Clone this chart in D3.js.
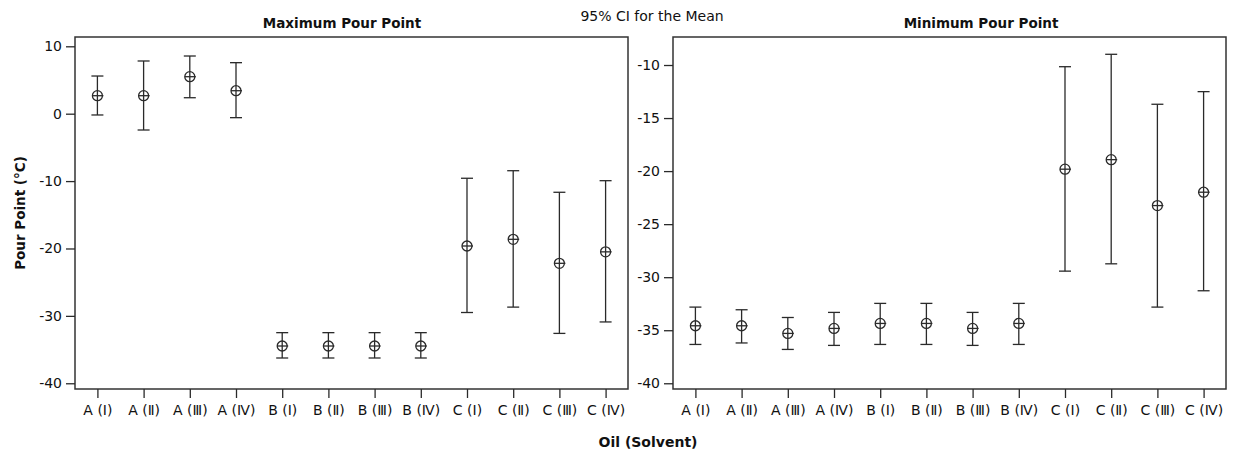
<!DOCTYPE html>
<html><head><meta charset="utf-8">
<script src="https://cdn.jsdelivr.net/npm/d3@7"></script>
<style>body{margin:0;background:#fff}svg{display:block}</style>
</head><body>
<script>
const categories = ["A (Ⅰ)","A (Ⅱ)","A (Ⅲ)","A (Ⅳ)","B (Ⅰ)","B (Ⅱ)","B (Ⅲ)","B (Ⅳ)","C (Ⅰ)","C (Ⅱ)","C (Ⅲ)","C (Ⅳ)"];
const maxMean  = [2.67, 2.67, 5.49, 3.41, -34.47, -34.47, -34.47, -34.47, -19.63, -18.64, -22.2, -20.5];
const maxLower = [-0.19, -2.42, 2.37, -0.59, -36.25, -36.25, -36.25, -36.25, -29.5, -28.7, -32.6, -30.9];
const maxUpper = [5.59, 7.82, 8.56, 7.57, -32.49, -32.49, -32.49, -32.49, -9.58, -8.46, -11.66, -9.94];
const minMean  = [-34.58, -34.58, -35.3, -34.83, -34.36, -34.36, -34.83, -34.36, -19.82, -18.92, -23.25, -21.99];
const minLower = [-36.34, -36.2, -36.81, -36.43, -36.34, -36.34, -36.43, -36.34, -29.43, -28.74, -32.82, -31.28];
const minUpper = [-32.82, -33.07, -33.8, -33.32, -32.47, -32.47, -33.32, -32.47, -10.16, -8.99, -13.7, -12.51];
const maxTicks = [10, 0, -10, -20, -30, -40];
const minTicks = [-10, -15, -20, -25, -30, -35, -40];

const W = 1239, H = 455;
const svg = d3.select("body").append("svg").attr("width", W).attr("height", H);
const font = "'DejaVu Sans', Verdana, sans-serif";
const ink = "#2a2a2a";
const plotTop = 37, plotBottom = 389;

function panel(x0, x1, domain, ticks, mean, lower, upper, title, titleX) {
  const g = svg.append("g");
  const x = d3.scalePoint().domain(categories).range([x0, x1]).padding(0.485);
  const y = d3.scaleLinear().domain(domain).range([plotBottom, plotTop]);
  g.append("rect").attr("x", x0).attr("y", plotTop).attr("width", x1 - x0).attr("height", plotBottom - plotTop)
    .attr("fill", "none").attr("stroke", "#333").attr("stroke-width", 1.5);
  const ya = g.append("g").attr("transform", `translate(${x0},0)`)
    .call(d3.axisLeft(y).tickValues(ticks).tickSize(9).tickPadding(4).tickFormat(d => String(d)));
  const xa = g.append("g").attr("transform", `translate(0,${plotBottom})`)
    .call(d3.axisBottom(x).tickSize(9).tickPadding(7));
  [ya, xa].forEach(a => {
    a.select(".domain").remove();
    a.selectAll("line").attr("stroke", ink).attr("stroke-width", 1.3);
    a.selectAll("text").attr("fill", "#111").style("font-family", font).style("font-size", "14px");
  });
  const data = categories.map((c, i) => ({c, m: mean[i], lo: lower[i], hi: upper[i]}));
  const eb = g.selectAll(".eb").data(data).enter().append("g").attr("stroke", ink).attr("stroke-width", 1.3).attr("fill", "none");
  eb.append("line").attr("x1", d => x(d.c)).attr("x2", d => x(d.c)).attr("y1", d => y(d.lo)).attr("y2", d => y(d.hi));
  eb.append("line").attr("x1", d => x(d.c) - 6).attr("x2", d => x(d.c) + 6).attr("y1", d => y(d.lo)).attr("y2", d => y(d.lo));
  eb.append("line").attr("x1", d => x(d.c) - 6).attr("x2", d => x(d.c) + 6).attr("y1", d => y(d.hi)).attr("y2", d => y(d.hi));
  eb.append("circle").attr("cx", d => x(d.c)).attr("cy", d => y(d.m)).attr("r", 5).attr("fill", "#fff");
  eb.append("line").attr("x1", d => x(d.c) - 5).attr("x2", d => x(d.c) + 6).attr("y1", d => y(d.m)).attr("y2", d => y(d.m));
  eb.append("line").attr("x1", d => x(d.c)).attr("x2", d => x(d.c)).attr("y1", d => y(d.m) - 5).attr("y2", d => y(d.m) + 5);
  svg.append("text").attr("x", titleX).attr("y", 28).attr("text-anchor", "middle")
    .style("font-family", font).style("font-size", "13.5px").style("font-weight", "bold").attr("fill", "#111").text(title);
}

panel(75, 628, [-40.85, 11.38], maxTicks, maxMean, maxLower, maxUpper, "Maximum Pour Point", 342);
panel(673, 1226, [-40.54, -7.36], minTicks, minMean, minLower, minUpper, "Minimum Pour Point", 981);

svg.append("text").attr("x", 652).attr("y", 21).attr("text-anchor", "middle")
  .style("font-family", font).style("font-size", "14px").attr("fill", "#111").text("95% CI for the Mean");
svg.append("text").attr("transform", "translate(25,213) rotate(-90)").attr("text-anchor", "middle")
  .style("font-family", font).style("font-size", "13.5px").style("font-weight", "bold").attr("fill", "#111").text("Pour Point (°C)");
svg.append("text").attr("x", 648).attr("y", 447).attr("text-anchor", "middle")
  .style("font-family", font).style("font-size", "14px").style("font-weight", "bold").attr("fill", "#111").text("Oil (Solvent)");
</script>
</body></html>
